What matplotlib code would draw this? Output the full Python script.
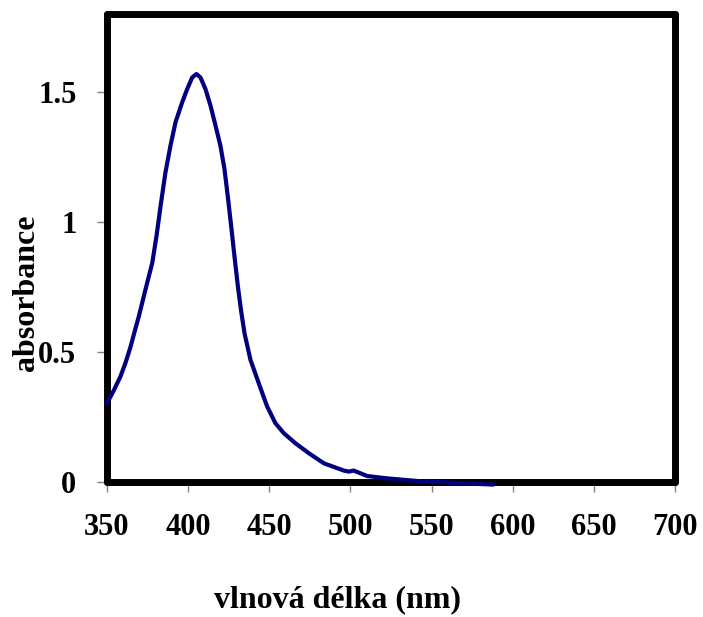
import matplotlib
matplotlib.use("Agg")
import matplotlib.pyplot as plt
import numpy as np

# absorption spectrum
wavelength = [350, 354, 358.3, 361.5, 364.5, 367, 369.6, 373.7, 377.9, 380.5, 383,
              386, 389.1, 392.2, 396.3, 399.4, 402.5, 405.1, 407.6, 410.7, 413.8,
              416.9, 419.9, 422.4, 424.4, 426.5, 428.6, 430.7, 432.7, 434.8, 438.4,
              443.5, 448.7, 453.8, 458.9, 466.1, 474.3, 483.6, 495.9, 499, 502,
              510.3, 522.6, 541, 565.8, 588]
absorb = [0.303, 0.35, 0.406, 0.46, 0.52, 0.578, 0.637, 0.74, 0.843, 0.946, 1.061,
          1.19, 1.293, 1.383, 1.46, 1.511, 1.556, 1.569, 1.556, 1.511, 1.447,
          1.37, 1.293, 1.203, 1.10, 0.985, 0.865, 0.75, 0.655, 0.57, 0.47,
          0.38, 0.29, 0.226, 0.188, 0.149, 0.111, 0.072, 0.044, 0.04, 0.044,
          0.023, 0.014, 0.004, -0.004, -0.01]

xticks = [350, 400, 450, 500, 550, 600, 650, 700]
yticks = [0, 0.5, 1, 1.5]
ytick_labels = ["0", "0.5", "1", "1.5"]

plt.rcParams['font.family'] = ['Liberation Serif', 'DejaVu Serif']
plt.rcParams['font.weight'] = 'bold'

fig = plt.figure(figsize=(7.03, 6.17), dpi=100)
ax = fig.add_axes([107 / 703, 135 / 617, 568 / 703, 468 / 617])

ax.plot(wavelength, absorb, color='#000080', linewidth=3, solid_capstyle='round',
        solid_joinstyle='round', clip_on=False, zorder=5)

ax.set_xlim(350, 700)
ax.set_ylim(0, 1.8)
ax.set_xticks(xticks)
ax.set_yticks(yticks)
ax.set_yticklabels(ytick_labels)

for s in ax.spines.values():
    s.set_linewidth(5)
    s.set_color('black')
    s.set_capstyle('round')

ax.tick_params(direction='out', length=7, width=1, color='#808080',
               labelsize=22, pad=15)
for lab in ax.get_xticklabels() + ax.get_yticklabels():
    lab.set_fontweight('bold')

fig.text(27 / 703, 1 - 293 / 617, 'absorbance', rotation=90, ha='center',
         va='center', fontsize=23, fontweight='bold')
fig.text(338 / 703, 1 - 600 / 617, 'vlnová délka (nm)', ha='center',
         va='center', fontsize=23, fontweight='bold')

plt.savefig('out.png', dpi=100)
plt.close()
